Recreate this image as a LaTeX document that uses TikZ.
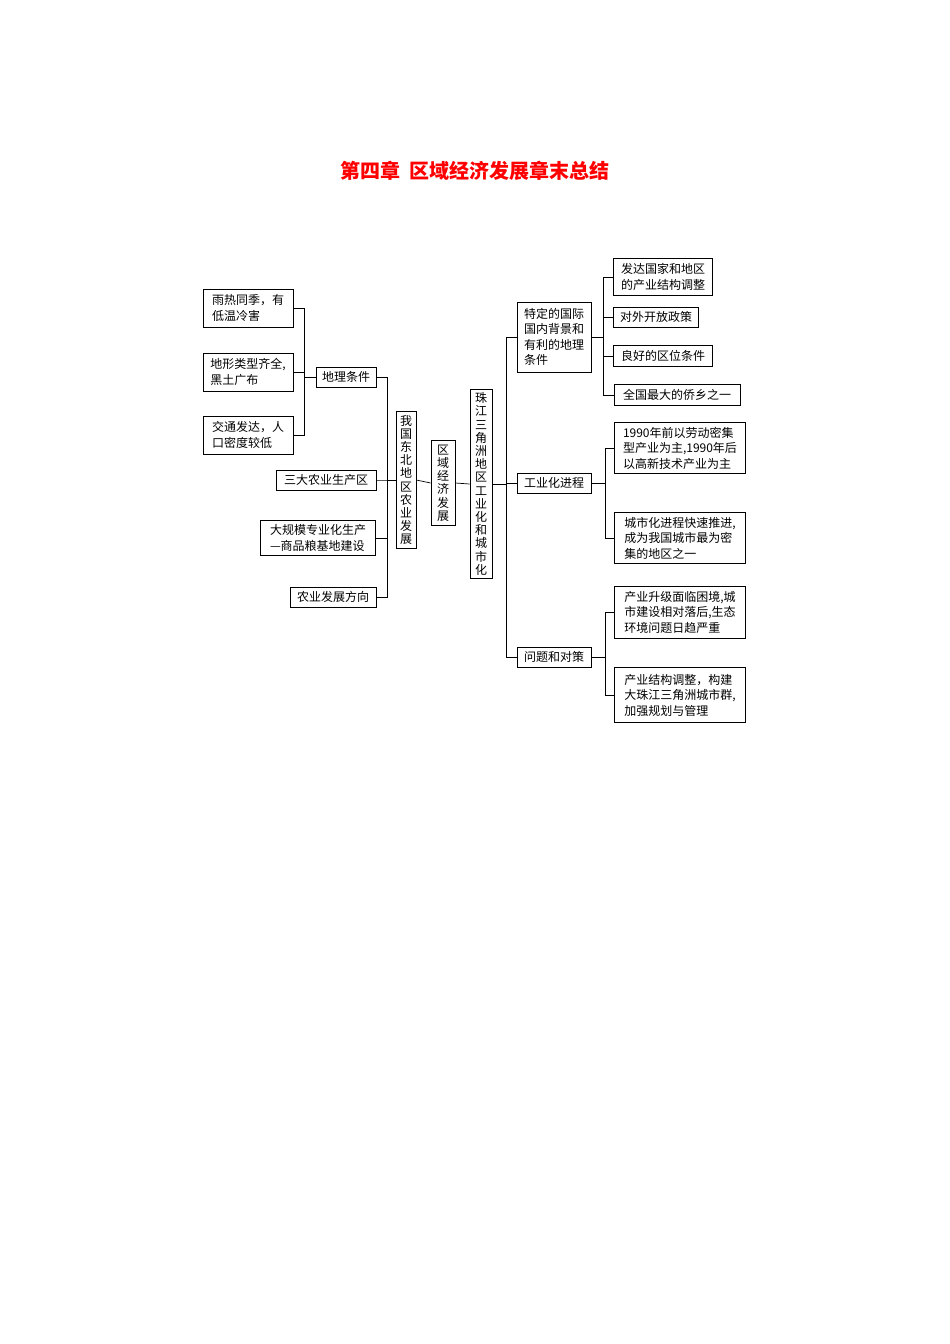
\documentclass[tikz,border=0pt]{standalone}
\usepackage{fontspec}
\setmainfont{Noto Sans CJK SC}
\XeTeXlinebreaklocale "zh"
\XeTeXlinebreakskip=0pt plus 1pt
\begin{document}
\begin{tikzpicture}[x=1pt,y=-1pt,
  bx/.style={draw,line width=0.7pt,inner sep=2pt,align=left,font=\fontsize{12}{15.5}\selectfont},
  vb/.style={draw,line width=0.7pt,align=center,inner sep=3pt,font=\fontsize{12}{13.2}\selectfont},
  ln/.style={line width=0.7pt}]
\useasboundingbox (0,0) rectangle (950,1344);
\node[text=red,font=\fontsize{20}{24}\bfseries\selectfont] (title) at (475,171) {第四章\ \ 区域经济发展章末总结};
% left
\node[bx,minimum width=90pt,minimum height=38pt] (a1) at (248,308) {雨热同季，有\\低温冷害};
\node[bx,minimum width=90pt,minimum height=38pt] (a2) at (248,372) {地形类型齐全,\\黑土广布};
\node[bx,minimum width=90pt,minimum height=38pt] (a3) at (248,435) {交通发达，人\\口密度较低};
\node[bx,minimum width=60pt,minimum height=20pt] (dl) at (346,377) {地理条件};
\node[bx,minimum width=100pt,minimum height=20pt] (sd) at (326,480) {三大农业生产区};
\node[bx,minimum width=115pt,minimum height=35pt] (dg) at (318,538) {大规模专业化生产\\—商品粮基地建设};
\node[bx,minimum width=86pt,minimum height=20pt] (fx) at (333,597) {农业发展方向};
\node[vb,minimum width=20pt,minimum height=137pt] (db) at (406,480) {我\\国\\东\\北\\地\\区\\农\\业\\发\\展};
\node[vb,minimum width=24pt,minimum height=85pt] (qy) at (443,483) {区\\域\\经\\济\\发\\展};
\node[vb,minimum width=22pt,minimum height=188pt] (zj) at (481,484) {珠\\江\\三\\角\\洲\\地\\区\\工\\业\\化\\和\\城\\市\\化};
% middle right
\node[bx,minimum width=74pt,minimum height=70pt] (td) at (554,337) {特定的国际\\国内背景和\\有利的地理\\条件};
\node[bx,minimum width=74pt,minimum height=20pt] (gy) at (554,483) {工业化进程};
\node[bx,minimum width=74pt,minimum height=20pt] (wt) at (554,657) {问题和对策};
% far right
\node[bx,minimum width=99pt,minimum height=37pt] (r1) at (663,277) {发达国家和地区\\的产业结构调整};
\node[bx,minimum width=85pt,minimum height=20pt] (r2) at (656,317) {对外开放政策};
\node[bx,minimum width=99pt,minimum height=21pt] (r3) at (663,356) {良好的区位条件};
\node[bx,minimum width=126pt,minimum height=21pt] (r4) at (677,395) {全国最大的侨乡之一};
\node[bx,minimum width=131pt,minimum height=51pt] (r5) at (680,448) {1990年前以劳动密集\\型产业为主,1990年后\\以高新技术产业为主};
\node[bx,minimum width=131pt,minimum height=51pt] (r6) at (680,538) {城市化进程快速推进,\\成为我国城市最为密\\集的地区之一};
\node[bx,minimum width=131pt,minimum height=52pt] (r7) at (680,612) {产业升级面临困境,城\\市建设相对落后,生态\\环境问题日趋严重};
\node[bx,minimum width=131pt,minimum height=55pt] (r8) at (680,695) {产业结构调整，构建\\大珠江三角洲城市群,\\加强规划与管理};
% bus coordinates
\coordinate (k1) at (304,0);
\coordinate (k2) at (387,0);
\coordinate (k3) at (506,0);
\coordinate (k4) at (603,0);
\coordinate (k5) at (605,0);
% connectors
\foreach \c in {a1,a2,a3} \draw[ln] (\c.east) -| (k1 |- dl.west) -- (dl.west);
\foreach \c in {dl,sd,dg,fx} \draw[ln] (\c.east) -| (k2 |- db.west) -- (db.west);
\draw[ln] (db.east) -- (qy.west);
\draw[ln] (qy.east) -- (zj.west);
\foreach \c in {td,gy,wt} \draw[ln] (zj.east) -- (k3 |- zj.east) |- (\c.west);
\foreach \c in {r1,r2,r3,r4} \draw[ln] (td.east) -- (k4 |- td.east) |- (\c.west);
\foreach \c in {r5,r6} \draw[ln] (gy.east) -- (k5 |- gy.east) |- (\c.west);
\foreach \c in {r7,r8} \draw[ln] (wt.east) -- (k5 |- wt.east) |- (\c.west);
\end{tikzpicture}
\end{document}
